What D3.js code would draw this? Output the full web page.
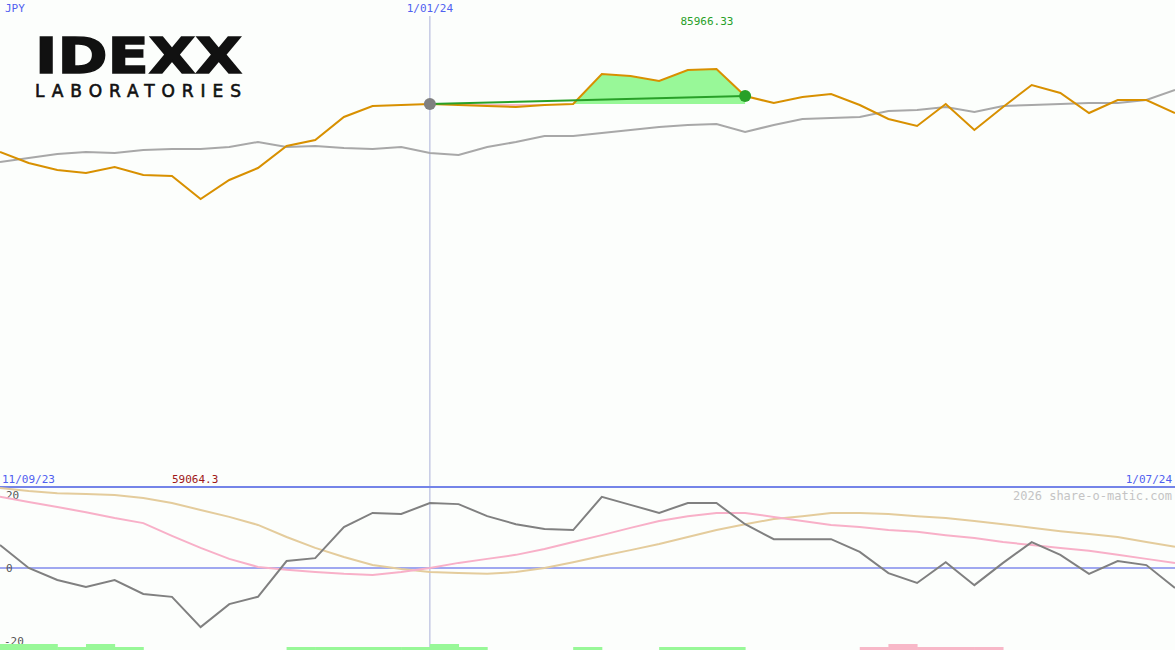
<!DOCTYPE html>
<html>
<head>
<meta charset="utf-8">
<script src="https://cdn.jsdelivr.net/npm/d3@7"></script>
<style>
  body { margin: 0; background: #fcfefc; }
  svg { display: block; }
  text { font-family: "DejaVu Sans Mono", monospace; font-size: 11px; }
</style>
</head>
<body>
<svg id="chart" width="1175" height="650"></svg>
<script>
// weekly price (JPY) and its longer average
const price = [71339, 68466, 66637, 65854, 67421, 65331, 65070, 59063, 64025, 67159,
  72906, 74473, 80481, 83354, 83615, 83876, 83615, 83354, 83093, 83615,
  83876, 91705, 91190, 89884, 92757, 93018, 85966, 84138, 85704, 86488,
  83615, 79958, 78130, 83876, 77085, 83093, 88839, 86750, 81526, 84921, 84921, 81526];
const average = [68727, 69772, 70816, 71339, 71077, 71861, 72122, 72122, 72645, 73951,
  72645, 72906, 72384, 72122, 72645, 71077, 70555, 72645, 73951, 75518,
  75518, 76302, 77085, 77869, 78391, 78652, 76563, 78391, 79958, 80219,
  80481, 82048, 82309, 83093, 81787, 83354, 83615, 83876, 84138, 84138, 84921, 87533];
// oscillator panel
const momentum = [6.3, 0, -3.3, -5.2, -3.3, -7.1, -7.9, -16.2, -9.9, -7.9,
  1.9, 2.7, 11.2, 15.1, 14.8, 17.8, 17.5, 14.2, 12.0, 10.7,
  10.4, 19.5, 17.3, 15.1, 17.8, 17.8, 12.0, 7.9, 7.9, 7.9,
  4.4, -1.4, -4.1, 1.6, -4.7, 1.4, 7.1, 3.6, -1.6, 1.9, 0.8, -5.5];
const fastAvg = [19.5, 18.1, 16.7, 15.3, 13.7, 12.3, 8.8, 5.5, 2.5, 0.3,
  -0.5, -1.1, -1.6, -1.9, -1.1, 0, 1.4, 2.5, 3.6, 5.2,
  7.1, 9.0, 11.0, 12.9, 14.2, 15.1, 15.1, 14.0, 12.9, 11.8,
  11.2, 10.4, 9.9, 9.0, 8.2, 7.1, 6.3, 5.5, 4.7, 3.6, 2.5, 1.4];
const slowAvg = [21.9, 21.1, 20.5, 20.3, 20.0, 19.2, 17.8, 15.9, 14.0, 11.8,
  8.5, 5.5, 3.0, 0.8, -0.3, -1.1, -1.4, -1.6, -1.1, 0,
  1.6, 3.3, 4.9, 6.6, 8.5, 10.4, 12.0, 13.4, 14.2, 15.1,
  15.1, 14.8, 14.2, 13.7, 12.9, 12.0, 11.0, 10.1, 9.3, 8.5, 7.1, 5.8];
// signal strip per week: + green, - pink; 1 short, 2 tall
const signal = [2, 2, 1, 2, 1, 0, 0, 0, 0, 0, 1, 1, 1, 1, 1, 2, 1, 0, 0, 0,
  1, 0, 0, 1, 1, 1, 0, 0, 0, 0, -1, -2, -1, -1, -1, 0, 0, 0, 0, 0, 0];
const oscTicks = [20, 0, -20];
const markerStart = 15, markerEnd = 26;

const W = 1175, H = 650;
const svg = d3.select('#chart');
svg.append('rect').attr('width', W).attr('height', H).attr('fill', '#fcfefc');

const x = d3.scaleLinear().domain([0, price.length - 1]).range([0, W]);
const y = d3.scaleLinear().domain([59063, 85966]).range([199, 96]);
const yo = d3.scaleLinear().domain([-20, 20]).range([641, 495]);

// logo
svg.append('text').attr('x', 35).attr('y', 60).text('IDEXX')
  .attr('textLength', 207).attr('lengthAdjust', 'spacingAndGlyphs')
  .attr('transform', 'translate(0,13) scale(1,1)')
  .style('font-family', '"DejaVu Sans"').style('font-weight', 'bold')
  .style('font-size', '50px').attr('fill', '#111')
  .attr('stroke', '#111').attr('stroke-width', 1.5);
svg.append('text').attr('x', 35).attr('y', 97).text('LABORATORIES')
  .attr('textLength', 206).attr('lengthAdjust', 'spacing')
  .style('font-family', '"DejaVu Sans"').style('font-size', '17px').attr('fill', '#111')
  .attr('stroke', '#111').attr('stroke-width', 0.6);

// marker vertical line
svg.append('line').attr('x1', x(markerStart)).attr('x2', x(markerStart))
  .attr('y1', 16).attr('y2', H).attr('stroke', '#aab0d8').attr('stroke-width', 1);

// shaded gain / loss between markers
const base = price[markerStart];
const seg = d3.range(markerStart, markerEnd + 1);
const area = d3.area().x(i => x(i)).y0(y(base)).y1(i => y(price[i]));
const defs = svg.append('defs');
defs.append('clipPath').attr('id', 'above').append('rect')
  .attr('x', 0).attr('y', 0).attr('width', W).attr('height', y(base));
defs.append('clipPath').attr('id', 'below').append('rect')
  .attr('x', 0).attr('y', y(base)).attr('width', W).attr('height', 300);
svg.append('path').datum(seg).attr('d', area).attr('fill', '#98f898').attr('clip-path', 'url(#above)');
svg.append('path').datum(seg).attr('d', area).attr('fill', '#f8b8c8').attr('clip-path', 'url(#below)');

const line = arr => d3.line().x((d, i) => x(i)).y(d => y(d))(arr);
svg.append('path').attr('d', line(average)).attr('fill', 'none').attr('stroke', '#a8a8a8').attr('stroke-width', 2);
svg.append('path').attr('d', line(price)).attr('fill', 'none').attr('stroke', '#d89000').attr('stroke-width', 2);

svg.append('line').attr('x1', x(markerStart)).attr('y1', y(price[markerStart]))
  .attr('x2', x(markerEnd)).attr('y2', y(price[markerEnd]))
  .attr('stroke', '#28a028').attr('stroke-width', 2);
svg.append('circle').attr('cx', x(markerStart)).attr('cy', y(price[markerStart])).attr('r', 6).attr('fill', '#808080');
svg.append('circle').attr('cx', x(markerEnd)).attr('cy', y(price[markerEnd])).attr('r', 6).attr('fill', '#28a028');

svg.append('text').attr('x', 5).attr('y', 12).text('JPY').attr('fill', '#5060f0');
svg.append('text').attr('x', x(markerStart)).attr('y', 12).attr('text-anchor', 'middle').text('1/01/24').attr('fill', '#5060f0');
svg.append('text').attr('x', 707).attr('y', 25).attr('text-anchor', 'middle')
  .text(d3.format('.2f')(85966.33)).attr('fill', '#28a028');

// lower panel
svg.append('line').attr('x1', 0).attr('x2', W).attr('y1', 487).attr('y2', 487).attr('stroke', '#7484e8').attr('stroke-width', 2);
svg.append('line').attr('x1', 0).attr('x2', W).attr('y1', yo(0)).attr('y2', yo(0)).attr('stroke', '#a0a8f0').attr('stroke-width', 2);
svg.append('text').attr('x', 2).attr('y', 483).text('11/09/23').attr('fill', '#5060f0');
svg.append('text').attr('x', 172).attr('y', 483).text('59064.3').attr('fill', '#a01818');
svg.append('text').attr('x', 1172).attr('y', 483).attr('text-anchor', 'end').text('1/07/24').attr('fill', '#5060f0');
svg.append('text').attr('x', 1172).attr('y', 500).attr('text-anchor', 'end').text('2026 share-o-matic.com')
  .attr('fill', '#c4c4c4').style('font-size', '12px');
oscTicks.forEach(t => {
  svg.append('text').attr('x', t < 0 ? 4 : 6).attr('y', yo(t) + 4).text(t).attr('fill', '#555');
});

const oline = arr => d3.line().x((d, i) => x(i)).y(d => yo(d))(arr);
svg.append('path').attr('d', oline(slowAvg)).attr('fill', 'none').attr('stroke', '#e4cc9c').attr('stroke-width', 2);
svg.append('path').attr('d', oline(fastAvg)).attr('fill', 'none').attr('stroke', '#f8b0c8').attr('stroke-width', 2);
svg.append('path').attr('d', oline(momentum)).attr('fill', 'none').attr('stroke', '#808080').attr('stroke-width', 2);

svg.append('g').selectAll('rect').data(signal).join('rect')
  .attr('x', (d, i) => x(i)).attr('width', x(1) - x(0) + 0.5)
  .attr('y', d => H - (Math.abs(d) === 2 ? 6 : 3))
  .attr('height', d => Math.abs(d) === 2 ? 6 : 3)
  .attr('fill', d => d > 0 ? '#98f898' : '#f8b8c8')
  .attr('display', d => d === 0 ? 'none' : null);
</script>
</body>
</html>
